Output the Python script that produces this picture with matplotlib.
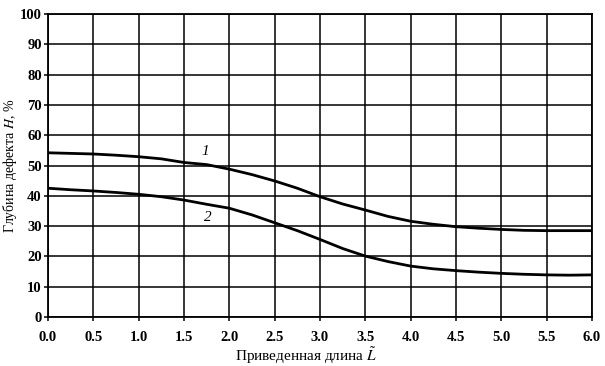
import numpy as np
import matplotlib
matplotlib.use("Agg")
import matplotlib.pyplot as plt

plt.rcParams["font.family"] = ["Liberation Serif", "DejaVu Serif"]
plt.rcParams["mathtext.fontset"] = "stix"

# reduced length L~
L = [0.0, 0.25, 0.5, 0.75, 1.0, 1.25, 1.5, 1.75, 2.0, 2.25, 2.5, 2.75, 3.0,
     3.25, 3.5, 3.75, 4.0, 4.25, 4.5, 4.75, 5.0, 5.25, 5.5, 5.75, 6.0]
# defect depth H, %
H1 = [54.2, 54.0, 53.8, 53.4, 52.9, 52.2, 51.0, 50.3, 48.8, 47.0, 44.9, 42.5, 39.7,
      37.3, 35.3, 33.2, 31.6, 30.6, 29.8, 29.3, 28.9, 28.6, 28.5, 28.5, 28.5]
H2 = [42.5, 42.0, 41.6, 41.1, 40.5, 39.7, 38.6, 37.2, 35.9, 33.7, 31.1, 28.5, 25.6,
      22.6, 20.1, 18.3, 16.8, 15.9, 15.3, 14.8, 14.4, 14.1, 13.9, 13.8, 13.9]

xticks = np.arange(0, 6.01, 0.5)
yticks = np.arange(0, 101, 10)

fig = plt.figure(figsize=(6.05, 3.66), dpi=100)
ax = fig.add_axes([0.0793, 0.1339, 0.8992, 0.8278])

ax.plot(L, H1, color="black", lw=2.0, zorder=3)
ax.plot(L, H2, color="black", lw=2.0, zorder=3)
ax.text(1.74, 54.6, "1", style="italic", fontsize=11, ha="center", va="center")
ax.text(1.76, 33.0, "2", style="italic", fontsize=11, ha="center", va="center")

ax.set_xlim(0, 6)
ax.set_ylim(0, 100)
ax.set_xticks(xticks)
ax.set_yticks(yticks)
ax.set_xticklabels([f"{v:.1f}" for v in xticks])
ax.set_yticklabels([str(int(v)) for v in yticks])
ax.grid(True, color="black", lw=1.1)
ax.set_axisbelow(True)
for sp in ax.spines.values():
    sp.set_color("black")
    sp.set_linewidth(1.3)
ax.tick_params(direction="out", length=3, width=1.1, labelsize=10.5)
ax.tick_params(axis="x", pad=7)
ax.tick_params(axis="y", pad=1.5)
for lab in ax.get_xticklabels() + ax.get_yticklabels():
    lab.set_fontweight("bold")

ax.set_xlabel(r"Приведенная длина $\tilde{L}$", fontsize=11)
ax.set_ylabel(r"Глубина дефекта $H$, %", fontsize=10)
ax.xaxis.set_label_coords(0.475, -0.092)
ax.yaxis.set_label_coords(-0.053, 0.5)

fig.savefig("out.png", dpi=100)
